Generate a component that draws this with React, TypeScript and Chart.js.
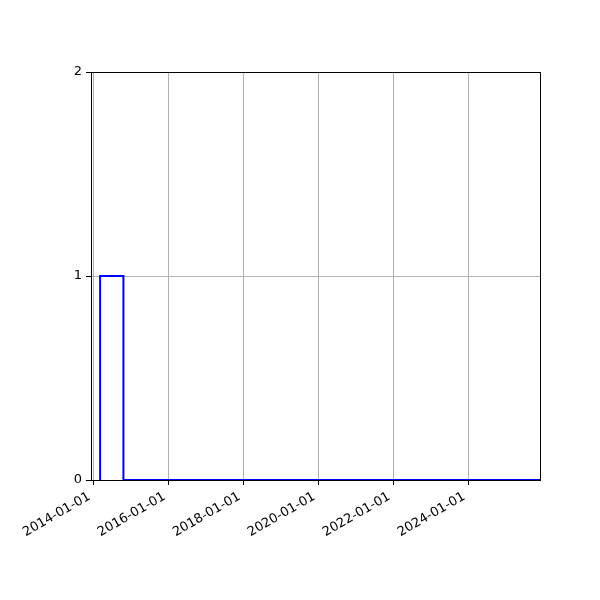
import { useEffect, useRef } from "react";
import { Chart, registerables } from "chart.js";

Chart.register(...registerables);

// histogram bin edges (dates) and counts per bin
const binEdges = ["2014-03-07", "2014-10-20", "2025-12-01"];
const binCounts = [1, 0];

// axis limits and tick labels
const xRange = ["2013-12-08", "2025-12-01"];
const xTickLabels = ["2014-01-01", "2016-01-01", "2018-01-01", "2020-01-01", "2022-01-01", "2024-01-01"];
const yTicks = [0, 1, 2];

const toMs = (s: string) => Date.parse(s + "T00:00:00Z");
const fmt = (v: number) => new Date(v).toISOString().slice(0, 10);

const FONT = { family: "'DejaVu Sans', sans-serif", size: 13 };

const framePlugin = {
  id: "frame",
  beforeDatasetsDraw(chart: Chart) {
    const { ctx, chartArea: a } = chart;
    ctx.save();
    ctx.strokeStyle = "#000";
    ctx.lineWidth = 1;
    ctx.strokeRect(Math.round(a.left) + 0.5, Math.round(a.top) + 0.5, Math.round(a.right - a.left), Math.round(a.bottom - a.top));
    ctx.restore();
  },
};

export default function App() {
  const ref = useRef<HTMLCanvasElement>(null);

  useEffect(() => {
    document.body.style.margin = "0";
    if (!ref.current) return;
    const edges = binEdges.map(toMs);
    const data = [
      { x: edges[0], y: 0 },
      ...binCounts.map((c, i) => ({ x: edges[i], y: c })),
      { x: edges[edges.length - 1], y: 0 },
    ];
    const chart = new Chart(ref.current, {
      type: "line",
      data: {
        datasets: [
          {
            data,
            borderColor: "#0000ff",
            borderWidth: 2,
            pointRadius: 0,
            stepped: true,
            fill: false,
          },
        ],
      },
      options: {
        animation: false,
        responsive: false,
        layout: { padding: { left: 0, top: 72, right: 60, bottom: 0 } },
        plugins: { legend: { display: false }, tooltip: { enabled: false } },
        scales: {
          x: {
            type: "linear",
            min: toMs(xRange[0]),
            max: toMs(xRange[1]),
            afterBuildTicks: (s: any) => {
              s.ticks = xTickLabels.map((t) => ({ value: toMs(t) }));
            },
            afterFit: (s: any) => {
              s.height = 120;
            },
            ticks: {
              autoSkip: false,
              minRotation: 30,
              maxRotation: 30,
              color: "#000",
              font: FONT,
              padding: 4,
              labelOffset: -4,
              callback: (v: any) => fmt(Number(v)),
            },
            grid: { color: "#b0b0b0", lineWidth: 1, tickLength: 5, tickColor: "#000" },
            border: { display: false },
          },
          y: {
            min: 0,
            max: 2,
            afterBuildTicks: (s: any) => {
              s.ticks = yTicks.map((v) => ({ value: v }));
            },
            afterFit: (s: any) => {
              s.width = 91;
            },
            ticks: { color: "#000", font: FONT, padding: 4 },
            grid: { color: "#b0b0b0", lineWidth: 1, tickLength: 5, tickColor: "#000" },
            border: { display: false },
          },
        },
      },
      plugins: [framePlugin],
    });
    return () => chart.destroy();
  }, []);

  return (
    <div style={{ width: 600, height: 600, background: "#fff" }}>
      <canvas ref={ref} width={600} height={600} />
    </div>
  );
}
